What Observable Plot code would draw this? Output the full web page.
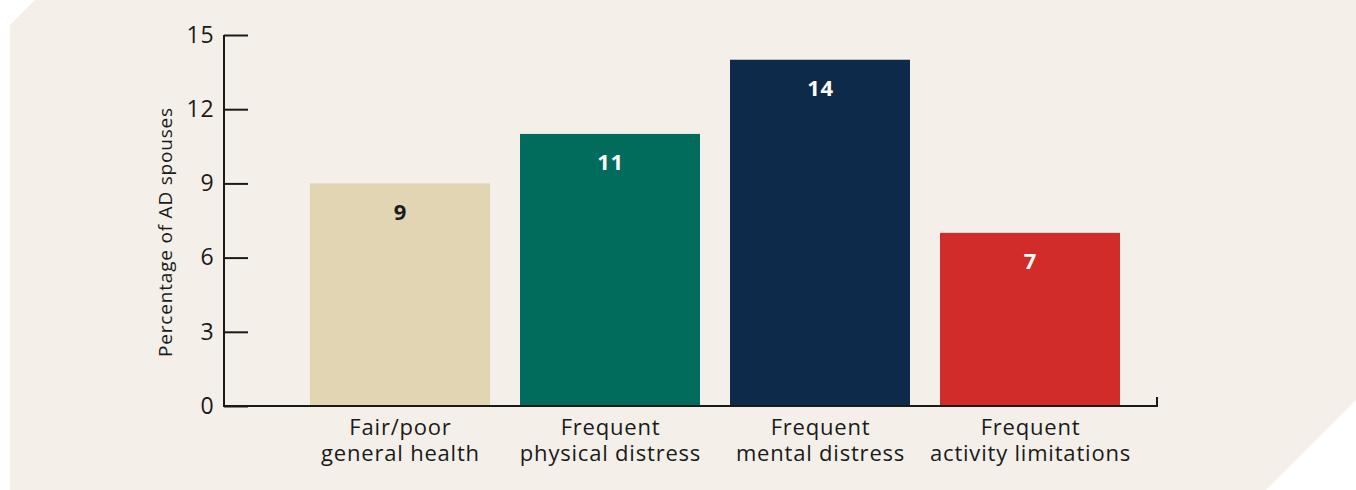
<!DOCTYPE html>
<html>
<head>
<meta charset="utf-8">
<script src="https://cdn.jsdelivr.net/npm/d3@7"></script>
<script src="https://cdn.jsdelivr.net/npm/@observablehq/plot@0.6"></script>
<style>
  html, body { margin: 0; padding: 0; background: #ffffff; }
  #wrap { position: relative; width: 1356px; height: 490px; }
  #bg { position: absolute; inset: 0; background: #f4f0e9;
        clip-path: polygon(10px 25px, 35px 0px, 1356px 0px, 1356px 400px, 1266px 490px, 10px 490px); }
  #chart { position: absolute; left: 0; top: 0; }
</style>
</head>
<body>
<div id="wrap"><div id="bg"></div><div id="chart"></div></div>
<script>
const categories = ["Fair/poor\ngeneral health", "Frequent\nphysical distress", "Frequent\nmental distress", "Frequent\nactivity limitations"];
const values = [9, 11, 14, 7];
const barColors = ["#e1d5b4", "#016b5c", "#0e2a4b", "#d12b2a"];
const labelColors = ["#1b1b1b", "#ffffff", "#ffffff", "#ffffff"];
const yTicks = [0, 3, 6, 9, 12, 15];
const yTitle = "Percentage of AD spouses";

const data = categories.map((c, i) => ({category: c, value: values[i], color: barColors[i], label: labelColors[i]}));
const font = "Open Sans, sans-serif";
const ink = "#1a1a1a";

const axisLines = (index, scales, vals, dims) => {
  const {width, marginLeft, marginRight} = dims;
  const y = scales.y;
  const x0 = marginLeft, x1 = width - marginRight;
  const g = d3.create("svg:g").attr("fill", "none").attr("stroke", ink).attr("stroke-width", 2);
  g.append("path").attr("d", `M${x0},${y(15)}V${y(0)}H${x1}V${y(0) - 9}`);
  return g.node();
};

const plot = Plot.plot({
  width: 1356,
  height: 490,
  marginTop: 35,
  marginBottom: 84,
  marginLeft: 224,
  marginRight: 199,
  style: {background: "transparent", fontFamily: font, color: ink, letterSpacing: "0.8px"},
  x: {domain: categories, range: [295, 1135], paddingInner: 0.143, paddingOuter: 0.0715},
  y: {domain: [0, 15]},
  marks: [
    Plot.barY(data, {x: "category", y: "value", fill: "color"}),
    Plot.text(data, {x: "category", y: "value", text: d => String(d.value), fill: "label", dy: 29, fontSize: 22, fontWeight: "bold"}),
    Plot.ruleY(yTicks, {y: d => d, stroke: ink, strokeWidth: 2, insetRight: 909}),
    Plot.axisY({ticks: yTicks, tickSize: 0, tickPadding: 10, fontSize: 23, label: null}),
    Plot.text([yTitle], {text: d => d, frameAnchor: "left", textAnchor: "middle", rotate: -90, dx: -59, dy: 11, fontSize: 19, fill: ink}),
    Plot.axisX({tickSize: 0, tickPadding: 10, fontSize: 22, lineHeight: 1.18, label: null}),
    axisLines
  ]
});
document.getElementById("chart").appendChild(plot);
</script>
</body>
</html>
